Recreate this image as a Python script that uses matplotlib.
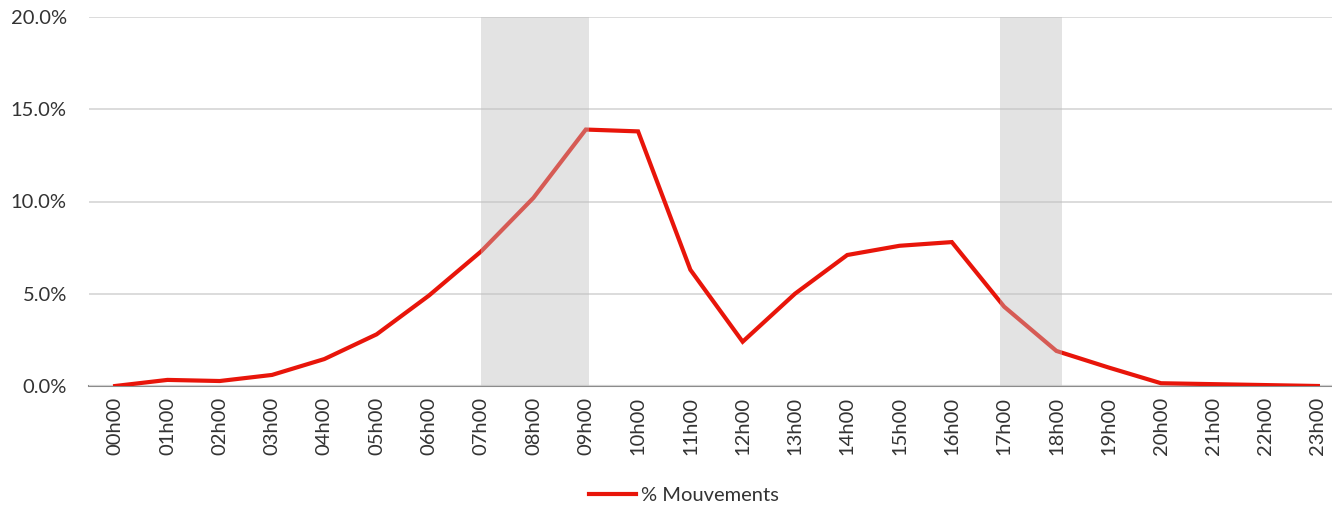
import matplotlib.pyplot as plt
from matplotlib.ticker import PercentFormatter

hours = ["%02dh00" % h for h in range(24)]
mouvements = [0.0, 0.33, 0.27, 0.6, 1.46, 2.8, 4.9, 7.3, 10.2, 13.9, 13.8, 6.3,
              2.4, 5.0, 7.1, 7.6, 7.8, 4.3, 1.9, 1.0, 0.15, 0.1, 0.05, 0.0]
peak_spans = [(7, 9.07), (16.92, 18.1)]

plt.rcParams["font.family"] = ["Lato", "DejaVu Sans"]

fig = plt.figure(figsize=(13.32, 5.07), dpi=100)
ax = fig.add_axes([89 / 1332, 1 - 386 / 507, (1332 - 89) / 1332, (386 - 17) / 507])

x = list(range(len(hours)))
ax.plot(x, mouvements, color="#E8150A", lw=3, solid_joinstyle="miter",
        label="% Mouvements", zorder=2)
# grey bands for the rush hours, laid over the line
for a, b in peak_spans:
    ax.axvspan(a, b, color="#BEBEBE", alpha=0.42, lw=0, zorder=3)

ax.set_xlim(-0.5, 23.27)
ax.set_ylim(0, 20)
ax.set_yticks([0, 5, 10, 15, 20])
ax.yaxis.set_major_formatter(PercentFormatter(decimals=1))
ax.set_xticks(x)
ax.set_xticklabels(hours, rotation=90)
ax.tick_params(length=0, labelsize=14.5, colors="#333333")
ax.tick_params(axis="x", pad=8)
ax.tick_params(axis="y", pad=16)
ax.grid(axis="y", color="#D9D9D9", lw=1.3, zorder=0)
for s in ["top", "right", "left"]:
    ax.spines[s].set_visible(False)
ax.spines["bottom"].set_color("#8C8C8C")
ax.spines["bottom"].set_linewidth(1.5)
ax.spines["bottom"].set_zorder(1)

fig.legend(loc="center", bbox_to_anchor=(684 / 1332, 1 - 495 / 507), frameon=False,
           fontsize=14.5, handlelength=2.3, handletextpad=0.25, labelcolor="#333333")

fig.savefig("out.png", dpi=100)
